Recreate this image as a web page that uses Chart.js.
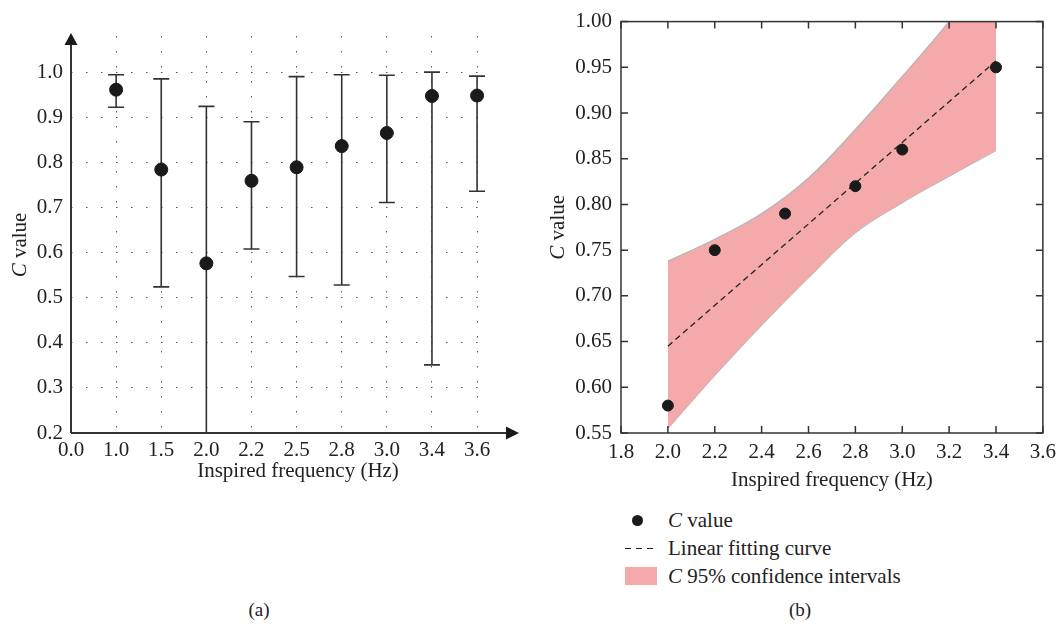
<!DOCTYPE html>
<html>
<head>
<meta charset="utf-8">
<script src="https://cdn.jsdelivr.net/npm/chart.js@4.4.1/dist/chart.umd.min.js"></script>
<style>
    body { margin: 0; background: #fff; width: 1063px; height: 628px; position: relative; overflow: hidden;
           font-family: "Liberation Serif", "DejaVu Serif", serif; color: #222; }
    #chartA { position: absolute; left: 0; top: 0; }
    #chartB { position: absolute; left: 540px; top: 0; }
    .legend { position: absolute; left: 625px; top: 506px; font-size: 21px; }
    .legend .row { height: 28px; line-height: 28px; position: relative; padding-left: 43px; white-space: nowrap; }
    .legend .mk { position: absolute; left: 0; top: 0; width: 32px; height: 28px; }
    .legend .dot::after { content: ''; position: absolute; left: 7px; top: 9px; width: 11px; height: 11px; border-radius: 50%; background: #1a1a1a; }
    .legend .dash::after { content: ''; position: absolute; left: 0; top: 14px; width: 32px; height: 1.4px;
                           background: repeating-linear-gradient(to right, #222 0 6px, transparent 6px 11px); }
    .legend .box::after { content: ''; position: absolute; left: 0; top: 5px; width: 32px; height: 18px; background: #f4aaaa; }
    .cap { position: absolute; top: 599px; font-size: 19px; width: 40px; text-align: center; }
</style>
</head>
<body>
<canvas id="chartA" width="530" height="490"></canvas>
<canvas id="chartB" width="523" height="500"></canvas>

<div class="legend">
    <div class="row"><span class="mk dot"></span><i>C</i> value</div>
    <div class="row"><span class="mk dash"></span>Linear fitting curve</div>
    <div class="row"><span class="mk box"></span><i>C</i> 95% confidence intervals</div>
</div>
<div class="cap" style="left:239px">(a)</div>
<div class="cap" style="left:780px">(b)</div>

<script>
// (a) C value per inspired frequency, with error bars
var freqLabels = ['0.0', '1.0', '1.5', '2.0', '2.2', '2.5', '2.8', '3.0', '3.4', '3.6'];
var cMean = [null, 0.961, 0.784, 0.576, 0.759, 0.789, 0.836, 0.865, 0.947, 0.948];
var cLow  = [null, 0.922, 0.524, 0.200, 0.608, 0.547, 0.528, 0.711, 0.351, 0.736];
var cHigh = [null, 0.994, 0.985, 0.924, 0.890, 0.990, 0.994, 0.993, 1.000, 0.991];
var cTicks = [0.2, 0.3, 0.4, 0.5, 0.6, 0.7, 0.8, 0.9, 1.0];

// (b) measured points, linear fit and 95% band
var fitFreq = [2.0, 2.2, 2.5, 2.8, 3.0, 3.4];
var fitC = [0.58, 0.75, 0.79, 0.82, 0.86, 0.95];
var lineFreq = [2.0, 3.4];
var lineC = [0.645, 0.957];
var bandFreq = [2.0, 2.2, 2.4, 2.6, 2.8, 3.0, 3.2, 3.4];
var bandUpper = [0.738, 0.762, 0.790, 0.829, 0.882, 0.940, 1.000, 1.065];
var bandLower = [0.555, 0.613, 0.668, 0.720, 0.769, 0.802, 0.831, 0.859];

var serif = '"Liberation Serif", "DejaVu Serif", serif';
var ink = '#333';

function pairs(xs, ys) {
    var out = [];
    for (var i = 0; i < xs.length; i++) {
        if (ys[i] != null) out.push({ x: xs[i], y: ys[i] });
    }
    return out;
}

// "C value" with an italic C, rotated for the y axis
function drawYTitle(ctx, cx, cy) {
    ctx.save();
    ctx.translate(cx, cy);
    ctx.rotate(-Math.PI / 2);
    ctx.fillStyle = '#222';
    ctx.textBaseline = 'middle';
    ctx.font = 'italic 21px ' + serif;
    var wC = ctx.measureText('C').width;
    ctx.font = '21px ' + serif;
    var wRest = ctx.measureText(' value').width;
    var x0 = -(wC + wRest) / 2;
    ctx.font = 'italic 21px ' + serif;
    ctx.fillText('C', x0, 0);
    ctx.font = '21px ' + serif;
    ctx.fillText(' value', x0 + wC, 0);
    ctx.restore();
}

document.addEventListener('DOMContentLoaded', function () {
    Chart.defaults.font.family = serif;
    Chart.defaults.color = '#222';

    var errorBars = {
        id: 'errorBars',
        beforeDatasetsDraw: function (chart) {
            var ctx = chart.ctx, x = chart.scales.x, y = chart.scales.y;
            ctx.save();
            ctx.strokeStyle = ink;
            ctx.lineWidth = 1.6;
            for (var i = 0; i < freqLabels.length; i++) {
                if (cLow[i] == null) continue;
                var px = x.getPixelForValue(i);
                var top = y.getPixelForValue(cHigh[i]);
                var bot = y.getPixelForValue(cLow[i]);
                ctx.beginPath();
                ctx.moveTo(px, top); ctx.lineTo(px, bot);
                ctx.moveTo(px - 8, top); ctx.lineTo(px + 8, top);
                ctx.moveTo(px - 8, bot); ctx.lineTo(px + 8, bot);
                ctx.stroke();
            }
            ctx.restore();
        }
    };

    var arrowAxes = {
        id: 'arrowAxes',
        afterDatasetsDraw: function (chart) {
            var ctx = chart.ctx, area = chart.chartArea;
            var y0 = chart.scales.y.getPixelForValue(0.2);
            var x0 = area.left;
            ctx.save();
            ctx.strokeStyle = ink;
            ctx.fillStyle = '#1a1a1a';
            ctx.lineWidth = 2;
            ctx.beginPath();
            ctx.moveTo(x0, y0); ctx.lineTo(508, y0);
            ctx.moveTo(x0, y0); ctx.lineTo(x0, 44);
            ctx.stroke();
            ctx.beginPath();
            ctx.moveTo(519, y0); ctx.lineTo(506, y0 - 6.5); ctx.lineTo(506, y0 + 6.5);
            ctx.closePath(); ctx.fill();
            ctx.beginPath();
            ctx.moveTo(x0, 33); ctx.lineTo(x0 - 6.5, 45); ctx.lineTo(x0 + 6.5, 45);
            ctx.closePath(); ctx.fill();

            ctx.font = '21px ' + serif;
            ctx.fillStyle = '#222';
            ctx.textAlign = 'center';
            ctx.textBaseline = 'middle';
            ctx.fillText('Inspired frequency (Hz)', 298, 471);
            ctx.restore();
            drawYTitle(ctx, 20, 245);
        }
    };

    new Chart(document.getElementById('chartA').getContext('2d'), {
        type: 'scatter',
        data: {
            datasets: [{
                label: 'C value',
                data: pairs(freqLabels.map(function (l, i) { return i; }), cMean),
                backgroundColor: '#1a1a1a',
                borderColor: '#1a1a1a',
                pointRadius: 6.5,
                pointHoverRadius: 6.5
            }]
        },
        options: {
            responsive: false,
            animation: false,
            devicePixelRatio: 1,
            layout: { padding: { top: 36, right: 43, left: 0, bottom: 0 } },
            plugins: { legend: { display: false }, tooltip: { enabled: false } },
            scales: {
                x: {
                    type: 'linear', min: 0, max: 9.22,
                    afterFit: function (s) { s.height = 57; },
                    afterBuildTicks: function (s) {
                        s.ticks = freqLabels.map(function (l, i) { return { value: i }; });
                    },
                    ticks: {
                        padding: 5, font: { size: 21 },
                        callback: function (v) { return freqLabels[v]; }
                    },
                    grid: { color: '#555', lineWidth: 1, drawTicks: false },
                    border: { display: false, dash: [1.5, 13.5] }
                },
                y: {
                    min: 0.2, max: 1.08,
                    afterFit: function (s) { s.width = 71; },
                    afterBuildTicks: function (s) {
                        s.ticks = cTicks.map(function (v) { return { value: v }; });
                    },
                    ticks: {
                        padding: 8, font: { size: 21 },
                        callback: function (v) { return v.toFixed(1); }
                    },
                    grid: { color: '#555', lineWidth: 1, drawTicks: false },
                    border: { display: false, dash: [1.5, 13.5] }
                }
            }
        },
        plugins: [errorBars, arrowAxes]
    });

    var boxFrame = {
        id: 'boxFrame',
        afterDatasetsDraw: function (chart) {
            var ctx = chart.ctx, a = chart.chartArea;
            var sx = chart.scales.x, sy = chart.scales.y;
            ctx.save();
            ctx.strokeStyle = ink;
            ctx.lineWidth = 1.5;
            ctx.strokeRect(a.left, a.top, a.right - a.left, a.bottom - a.top);
            ctx.beginPath();
            sx.ticks.forEach(function (t) {
                var px = sx.getPixelForValue(t.value);
                ctx.moveTo(px, a.bottom); ctx.lineTo(px, a.bottom - 7);
                ctx.moveTo(px, a.top); ctx.lineTo(px, a.top + 7);
            });
            sy.ticks.forEach(function (t) {
                var py = sy.getPixelForValue(t.value);
                ctx.moveTo(a.left, py); ctx.lineTo(a.left + 7, py);
                ctx.moveTo(a.right, py); ctx.lineTo(a.right - 7, py);
            });
            ctx.stroke();

            ctx.font = '21px ' + serif;
            ctx.fillStyle = '#222';
            ctx.textAlign = 'center';
            ctx.textBaseline = 'middle';
            ctx.fillText('Inspired frequency (Hz)', (a.left + a.right) / 2, 480);
            ctx.restore();
            drawYTitle(ctx, 18, (a.top + a.bottom) / 2);
        }
    };

    new Chart(document.getElementById('chartB').getContext('2d'), {
        type: 'line',
        data: {
            datasets: [{
                label: 'C value',
                data: pairs(fitFreq, fitC),
                showLine: false,
                backgroundColor: '#1a1a1a',
                borderColor: '#1a1a1a',
                pointRadius: 5.5,
                pointHoverRadius: 5.5,
                order: 0
            }, {
                label: 'Linear fitting curve',
                data: pairs(lineFreq, lineC),
                borderColor: '#222',
                borderWidth: 1.3,
                borderDash: [6, 4],
                pointRadius: 0,
                fill: false,
                order: 1
            }, {
                label: 'C 95% confidence intervals',
                data: pairs(bandFreq, bandUpper),
                borderColor: '#b4b4b4',
                borderWidth: 1.2,
                backgroundColor: '#f4aaaa',
                pointRadius: 0,
                tension: 0.4,
                fill: '+1',
                order: 2
            }, {
                label: 'lower bound',
                data: pairs(bandFreq, bandLower),
                borderColor: '#b4b4b4',
                borderWidth: 1.2,
                pointRadius: 0,
                tension: 0.4,
                fill: false,
                order: 2
            }]
        },
        options: {
            responsive: false,
            animation: false,
            devicePixelRatio: 1,
            layout: { padding: { top: 17, right: 18, left: 0, bottom: 0 } },
            plugins: { legend: { display: false }, tooltip: { enabled: false } },
            scales: {
                x: {
                    type: 'linear', min: 1.8, max: 3.6,
                    afterFit: function (s) { s.height = 67; },
                    ticks: {
                        stepSize: 0.2, padding: 7, font: { size: 21 },
                        callback: function (v) { return v.toFixed(1); }
                    },
                    grid: { display: false, drawTicks: false },
                    border: { display: false }
                },
                y: {
                    min: 0.55, max: 1.0,
                    afterFit: function (s) { s.width = 81; },
                    ticks: {
                        stepSize: 0.05, padding: 9, font: { size: 21 },
                        callback: function (v) { return v.toFixed(2); }
                    },
                    grid: { display: false, drawTicks: false },
                    border: { display: false }
                }
            }
        },
        plugins: [boxFrame]
    });
});
</script>
</body>
</html>
